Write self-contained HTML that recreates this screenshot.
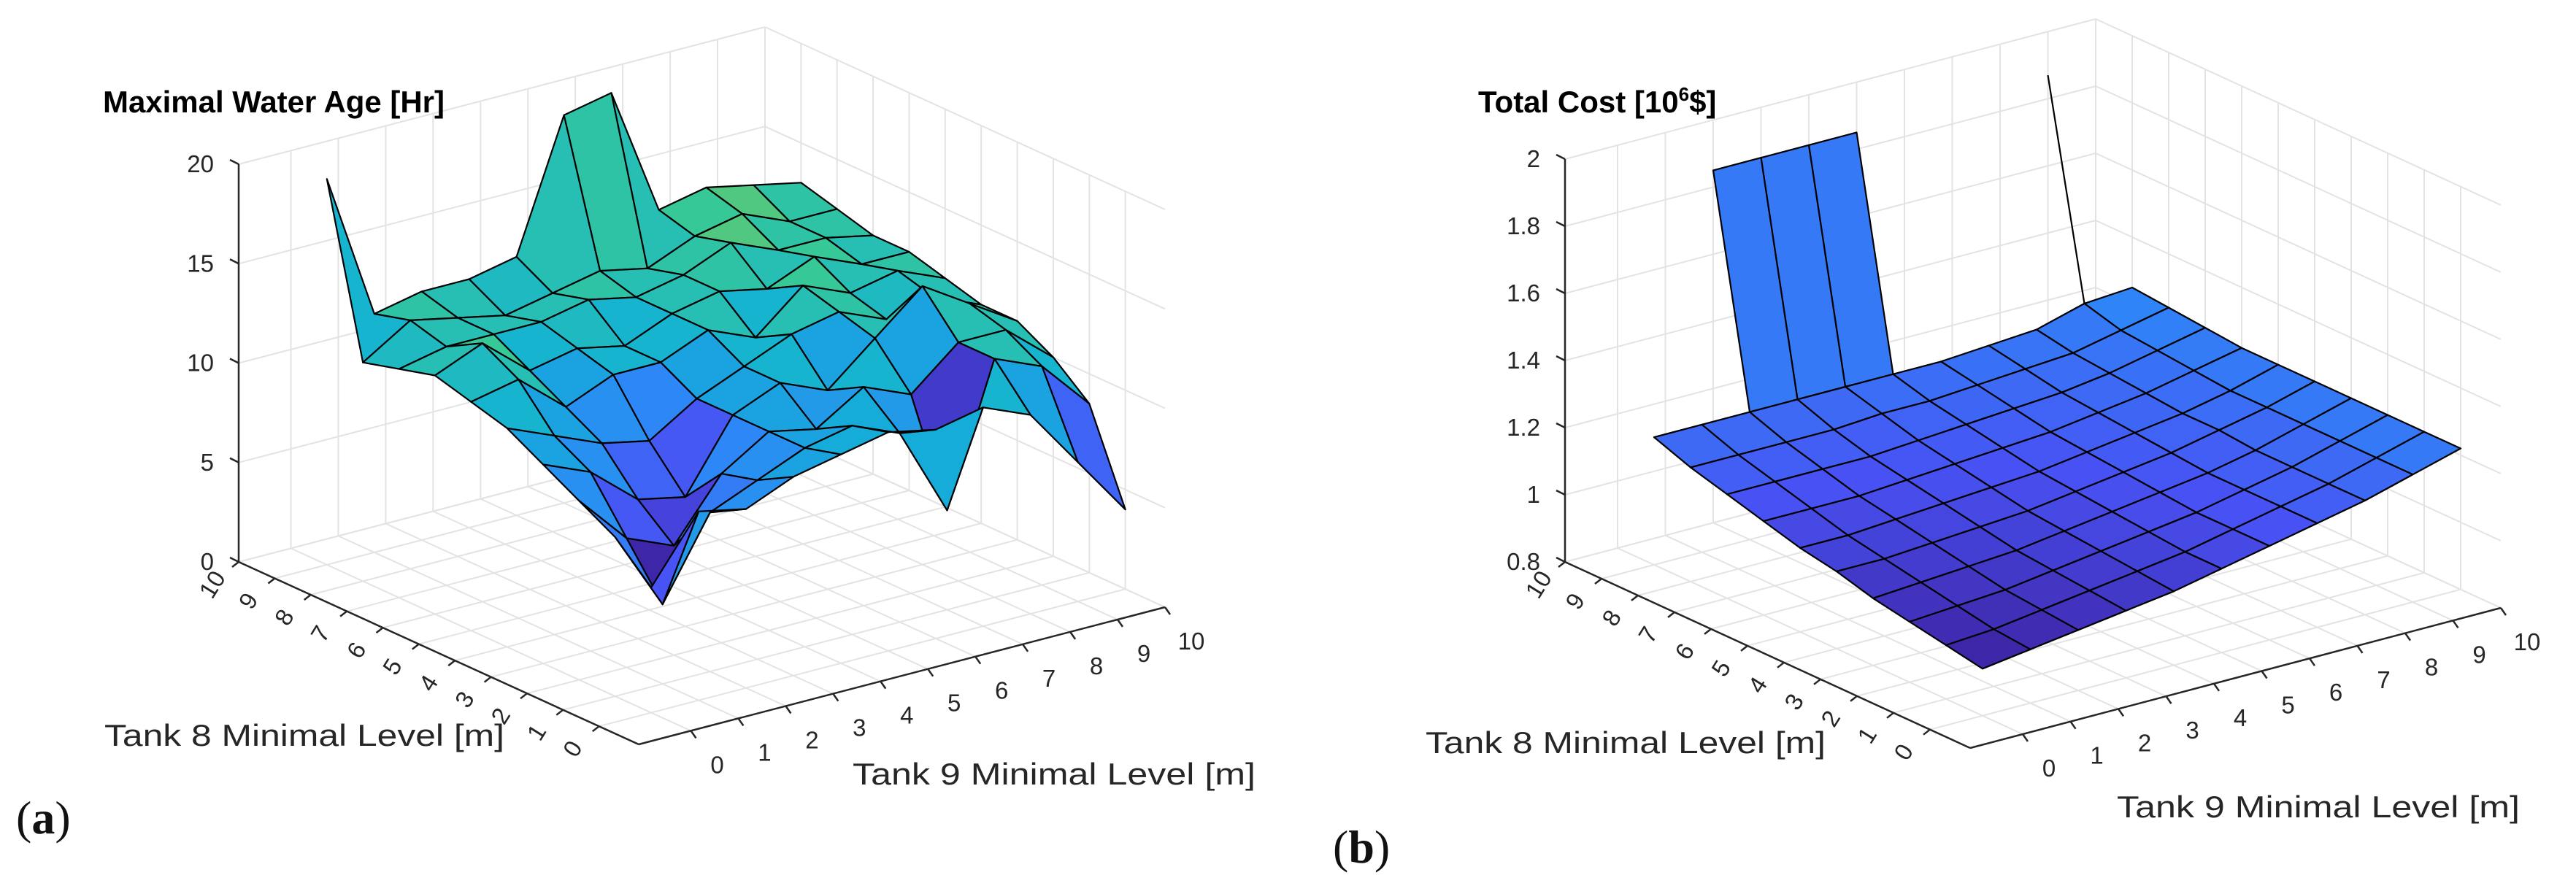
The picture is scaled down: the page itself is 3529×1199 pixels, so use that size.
<!DOCTYPE html>
<html><head><meta charset="utf-8"><style>
html,body{margin:0;padding:0;background:#fff;}
svg{display:block;font-family:"Liberation Sans",Arial,sans-serif;}
</style></head><body>
<svg id="root" width="3529" height="1199" viewBox="0 0 3529 1199" xmlns="http://www.w3.org/2000/svg">
<rect width="3529" height="1199" fill="#fff"/>
<g id="chartA"></g>
<g id="chartB"></g>
<text x="22" y="1142" font-family="Liberation Serif, serif" font-size="64" fill="#111">(<tspan font-weight="bold">a</tspan>)</text>
<text x="1826" y="1182" font-family="Liberation Serif, serif" font-size="64" fill="#111">(<tspan font-weight="bold">b</tspan>)</text>
</svg>
<script>
// ---- data ----
const tankTicks = [0,1,2,3,4,5,6,7,8,9,10];
const ageZTicks = [0,5,10,15,20];
const costZTicks = [0.8,1,1.2,1.4,1.6,1.8,2];
const costZTickLabels = ["0.8","1","1.2","1.4","1.6","1.8","2"];
const N = NaN;
const ageRows = [
[6.3, 9.5, 9.0, 10.0, 10.5, 11.0, 10.5, 11.0, 10.0, 7.0, 4.0],
[8.0, 4.0, 8.0, 9.0, 10.0, 10.5, 9.5, 5.0, 12.0, 11.0, 8.5],
[9.0, 6.5, 5.5, 8.5, 10.0, 9.5, 11.0, 10.0, 12.0, 12.0, 10.0],
[10.0, 9.0, 7.0, 6.5, 10.0, 11.0, 10.0, 12.0, 14.0, 12.5, 11.0],
[11.0, 10.0, 9.0, 8.5, 10.0, 11.0, 12.0, 12.5, 11.5, 12.0, 11.0],
[11.5, 12.0, 10.0, 11.0, 11.0, 12.0, 11.0, 13.0, 12.0, 12.5, 11.5],
[12.0, 13.0, 11.0, 11.5, 11.0, 12.0, 12.5, 12.0, 13.0, 12.0, 12.0],
[11.5, 12.0, 12.0, 12.0, 12.5, 12.0, 12.5, 13.5, 12.5, 12.5, 12.0],
[11.0, 12.5, 12.0, 11.5, 12.0, 12.5, 12.0, 13.0, 13.5, 12.5, 12.5],
[19.4, 12.0, 12.5, 12.5, 13.0, 19.5, 20.0, 13.5, 14.0, 13.5, 13.0]
];
const costRows = [
[0.94,0.96,0.98,1.00,1.02,1.05,1.08,1.11,1.14,1.18,1.22],
[0.96,0.97,0.99,1.01,1.03,1.05,1.08,1.11,1.14,1.18,1.22],
[0.98,0.99,1.00,1.02,1.04,1.06,1.08,1.11,1.14,1.18,1.22],
[1.00,1.01,1.02,1.03,1.05,1.07,1.09,1.11,1.14,1.18,1.22],
[1.03,1.03,1.04,1.05,1.06,1.08,1.10,1.12,1.15,1.18,1.22],
[1.05,1.05,1.06,1.07,1.08,1.09,1.11,1.13,1.15,1.18,1.22],
[1.08,1.08,1.08,1.09,1.10,1.11,1.12,1.14,1.16,1.19,1.22],
[1.11,1.11,1.11,1.11,1.12,1.13,1.14,1.15,1.17,1.20,1.23],
[1.14,1.14,1.14,1.14,1.15,1.15,1.16,1.17,1.18,1.21,1.24],
[1.18,1.18,1.18,1.18,1.18,1.18,1.18,1.19,1.20,1.24,1.25],
[N,N,1.85,1.85,1.85,1.85,N,N,N,1.87,N]
];

const NS="http://www.w3.org/2000/svg";
function mk(parent,tag,attrs){const e=document.createElementNS(NS,tag);for(const k in attrs)e.setAttribute(k,attrs[k]);parent.appendChild(e);return e;}
const parula=[[0,[62,38,168]],[0.125,[72,82,244]],[0.25,[46,135,247]],[0.375,[18,177,214]],[0.5,[55,200,151]],[0.625,[171,199,57]],[0.75,[254,191,60]],[1,[249,251,21]]];
function cmap(t){t=Math.max(0,Math.min(1,t));for(let k=1;k<parula.length;k++){if(t<=parula[k][0]){const[a,ca]=parula[k-1],[b,cb]=parula[k];const f=(t-a)/(b-a);return 'rgb('+ca.map((v,i)=>Math.round(v+(cb[i]-v)*f)).join(',')+')';}}return 'rgb(249,251,21)';}

function drawChart(g,cfg){
  const lo=-1.1,hi=10,span=hi-lo;
  const ua=[(cfg.L[0]-cfg.F[0])/span,(cfg.L[1]-cfg.F[1])/span];
  const ub=[(cfg.R[0]-cfg.F[0])/span,(cfg.R[1]-cfg.F[1])/span];
  const zs=cfg.zpx/(cfg.zmax-cfg.zmin);
  function P(a,b,z){return [cfg.F[0]+(a-lo)*ua[0]+(b-lo)*ub[0], cfg.F[1]+(a-lo)*ua[1]+(b-lo)*ub[1]-(z-cfg.zmin)*zs];}
  const grid=mk(g,'g',{stroke:'#e3e3e3','stroke-width':2,fill:'none'});
  
  
  function ln(p,q,par,st){return mk(par,'line',Object.assign({x1:p[0].toFixed(1),y1:p[1].toFixed(1),x2:q[0].toFixed(1),y2:q[1].toFixed(1)},st||{}));}
  tankTicks.forEach(t=>{
    ln(P(t,lo,cfg.zmin),P(t,hi,cfg.zmin),grid);
    ln(P(lo,t,cfg.zmin),P(hi,t,cfg.zmin),grid);
    ln(P(hi,t,cfg.zmin),P(hi,t,cfg.zmax),grid);
    ln(P(t,hi,cfg.zmin),P(t,hi,cfg.zmax),grid);
  });
  cfg.zticks.forEach(z=>{
    ln(P(hi,lo,z),P(hi,hi,z),grid);
    ln(P(hi,hi,z),P(lo,hi,z),grid);
  });
  ln(P(hi,hi,cfg.zmin),P(hi,hi,cfg.zmax),grid);
  const rows=cfg.rows, nr=rows.length, nc=rows[0].length;
  let vmin=Infinity;rows.forEach(r=>r.forEach(v=>{if(isFinite(v)){vmin=Math.min(vmin,v);}}));
  const surf=mk(g,'g',{stroke:'#000','stroke-width':2.2,'stroke-linejoin':'round'});
  
  
  const cells=[];const drawn={};
  for(let i=0;i<nr-1;i++)for(let j=0;j<nc-1;j++){
    const v=[rows[i][j],rows[i+1][j],rows[i+1][j+1],rows[i][j+1]];
    if(v.every(isFinite)){cells.push([i,j]);drawn[i+','+j]=1;}
  }
  cells.sort((p,q)=>(q[0]+q[1])-(p[0]+p[1]));
  cells.forEach(([i,j])=>{
    const pts=[P(tankTicks[i],tankTicks[j],rows[i][j]),P(tankTicks[i+1],tankTicks[j],rows[i+1][j]),P(tankTicks[i+1],tankTicks[j+1],rows[i+1][j+1]),P(tankTicks[i],tankTicks[j+1],rows[i][j+1])];
    const poly=mk(surf,'polygon',{points:pts.map(p=>p[0].toFixed(1)+','+p[1].toFixed(1)).join(' '),fill:cmap((rows[i][j]-vmin)/(cfg.cmax-vmin))});
    
    
  });
  for(let i=0;i<nr-1;i++)for(let j=0;j<nc;j++){
    if(isFinite(rows[i][j])&&isFinite(rows[i+1][j])&&!drawn[i+','+j]&&!drawn[i+','+(j-1)]){
      const e=ln(P(tankTicks[i],tankTicks[j],rows[i][j]),P(tankTicks[i+1],tankTicks[j],rows[i+1][j]),surf);
      
      
    }
  }
  const ax=mk(g,'g',{stroke:'#262626','stroke-width':2.5,fill:'none'});
  
  
  ln(P(hi,lo,cfg.zmin),P(hi,lo,cfg.zmax),ax);
  ln(P(hi,lo,cfg.zmin),P(lo,lo,cfg.zmin),ax);
  ln(P(lo,lo,cfg.zmin),P(lo,hi,cfg.zmin),ax);
  const lab=mk(g,'g',{fill:'#262626','font-size':33});
  
  
  cfg.zticks.forEach((z,k)=>{
    const p=P(hi,lo,z);
    ln(p,[p[0]-12,p[1]-6],ax);
    const t=mk(lab,'text',{x:(p[0]-34).toFixed(1),y:(p[1]+11).toFixed(1),'text-anchor':'end'});
    t.textContent=cfg.zlabels[k];
    
    
  });
  tankTicks.forEach(v=>{
    const p=P(v,lo,cfg.zmin);
    ln(p,[p[0]-9,p[1]+7],ax);
    const t=mk(lab,'text',{x:0,y:0,'text-anchor':'middle',transform:'translate('+(p[0]-36).toFixed(1)+','+(p[1]+31).toFixed(1)+') rotate(-58) translate(0,11)'});
    t.textContent=String(v);
    
    
    const q=P(lo,v,cfg.zmin);
    ln(q,[q[0]+7,q[1]+10],ax);
    const u=mk(lab,'text',{x:(q[0]+36).toFixed(1),y:(q[1]+58).toFixed(1),'text-anchor':'middle'});
    u.textContent=String(v);
    
    
  });
}

drawChart(document.getElementById('chartA'),{F:[875,1020],L:[327,770],R:[1596,832],zmin:0,zmax:20,zpx:545,zticks:ageZTicks,zlabels:ageZTicks.map(String),rows:ageRows,cmax:22});
drawChart(document.getElementById('chartB'),{F:[2699,1025],L:[2144,770],R:[3426,833],zmin:0.8,zmax:2,zpx:552,zticks:costZTicks,zlabels:costZTickLabels,rows:costRows,cmax:2.05});
</script>
<script>
(function(){
const root=document.getElementById('root');
function T(x,y,s,txt,name,opts){const e=document.createElementNS("http://www.w3.org/2000/svg",'text');e.setAttribute('x',x);e.setAttribute('y',y);e.setAttribute('font-size',s);e.setAttribute('fill','#262626');if(opts)for(const k in opts)e.setAttribute(k,opts[k]);e.textContent=txt;


root.appendChild(e);return e;}
T(141,154,42,'Maximal Water Age [Hr]','z-axis-title-a',{'font-weight':'bold',fill:'#000',textLength:468,lengthAdjust:'spacingAndGlyphs'});
T(143,1022,42,'Tank 8 Minimal Level [m]','tank8-axis-title-a',{textLength:548,lengthAdjust:'spacingAndGlyphs'});
T(1168,1075,42,'Tank 9 Minimal Level [m]','tank9-axis-title-a',{textLength:552,lengthAdjust:'spacingAndGlyphs'});
const tb=T(2025,154,42,'Total Cost [10','z-axis-title-b',{'font-weight':'bold',fill:'#000'});
const s1=document.createElementNS("http://www.w3.org/2000/svg",'tspan');s1.setAttribute('dy','-16');s1.setAttribute('font-size','26');s1.textContent='6';tb.appendChild(s1);
const s2=document.createElementNS("http://www.w3.org/2000/svg",'tspan');s2.setAttribute('dy','16');s2.textContent='$]';tb.appendChild(s2);
T(1953,1032,42,'Tank 8 Minimal Level [m]','tank8-axis-title-b',{textLength:548,lengthAdjust:'spacingAndGlyphs'});
T(2900,1120,42,'Tank 9 Minimal Level [m]','tank9-axis-title-b',{textLength:552,lengthAdjust:'spacingAndGlyphs'});
})();
</script>
</body></html>
